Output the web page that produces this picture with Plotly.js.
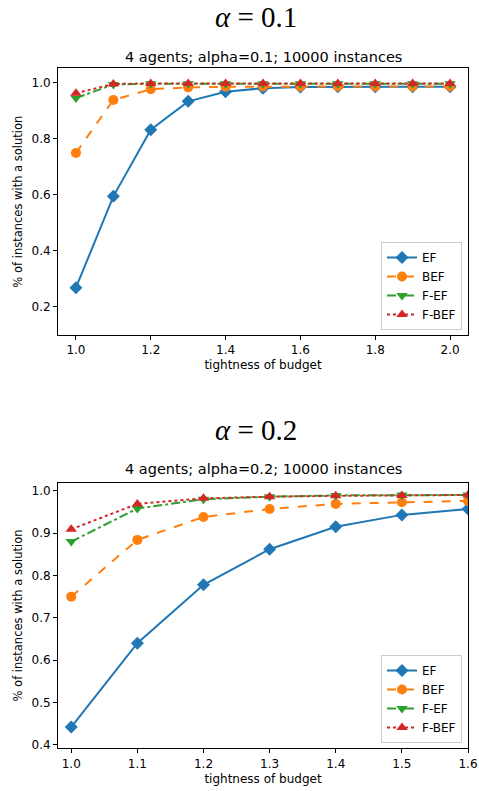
<!DOCTYPE html>
<html>
<head>
<meta charset="utf-8">
<script src="https://cdn.plot.ly/plotly-3.0.1.min.js"></script>
<style>html,body{margin:0;padding:0;background:#fff;}#chart{width:479px;height:791px;}</style>
</head>
<body>
<div id="chart"></div>
<script>
// ---- data: alpha = 0.1 ----
const budgets1 = [1.0, 1.1, 1.2, 1.3, 1.4, 1.5, 1.6, 1.7, 1.8, 1.9, 2.0];
const ef1   = [0.268, 0.594, 0.832, 0.933, 0.967, 0.980, 0.984, 0.985, 0.985, 0.985, 0.985];
const bef1  = [0.749, 0.938, 0.976, 0.983, 0.985, 0.986, 0.986, 0.986, 0.986, 0.986, 0.986];
const fef1  = [0.945, 0.993, 0.996, 0.996, 0.996, 0.996, 0.996, 0.996, 0.996, 0.996, 0.996];
const fbef1 = [0.962, 0.995, 0.997, 0.997, 0.997, 0.997, 0.997, 0.997, 0.997, 0.997, 0.997];

// ---- data: alpha = 0.2 ----
const budgets2 = [1.0, 1.1, 1.2, 1.3, 1.4, 1.5, 1.6];
const ef2   = [0.442, 0.640, 0.778, 0.862, 0.915, 0.943, 0.957];
const bef2  = [0.750, 0.884, 0.938, 0.957, 0.969, 0.973, 0.976];
const fef2  = [0.880, 0.958, 0.980, 0.986, 0.989, 0.990, 0.990];
const fbef2 = [0.909, 0.969, 0.982, 0.986, 0.988, 0.989, 0.990];

const seriesNames = ["EF", "BEF", "F-EF", "F-BEF"];
const colors = ["#1f77b4", "#ff7f0e", "#2ca02c", "#d62728"];
const dashes = ["solid", "dash", "dashdot", "dot"];
const symbols = ["diamond", "circle", "triangle-down", "triangle-up"];
const sizes = [10, 10, 10, 10];

const supTitles = ["<i>α</i> = 0.1", "<i>α</i> = 0.2"];
const subTitles = ["4 agents; alpha=0.1; 10000 instances", "4 agents; alpha=0.2; 10000 instances"];
const xLabel = "tightness of budget";
const yLabel = "% of instances with a solution";

const groups = [
  {x: budgets1, ys: [ef1, bef1, fef1, fbef1], xa: "x", ya: "y", legend: "legend"},
  {x: budgets2, ys: [ef2, bef2, fef2, fbef2], xa: "x2", ya: "y2", legend: "legend2"}
];

const traces = [];
groups.forEach(g => {
  g.ys.forEach((ys, i) => {
    traces.push({
      x: g.x, y: ys, xaxis: g.xa, yaxis: g.ya,
      name: seriesNames[i], legend: g.legend,
      type: "scatter", mode: "lines+markers",
      line: {color: colors[i], width: 2, dash: dashes[i]},
      marker: {color: colors[i], symbol: symbols[i], size: sizes[i]},
      cliponaxis: true
    });
  });
});

const W = 479, H = 791;
const px = v => v / W;
const py = v => 1 - v / H;

const axBase = {
  showgrid: false, zeroline: false, showline: true, mirror: true,
  linecolor: "#000", linewidth: 1, ticks: "outside", ticklen: 4,
  tickcolor: "#000", tickwidth: 1, tickfont: {size: 12, color: "#000"}
};

const layout = {
  width: W, height: H,
  margin: {l: 0, r: 0, t: 0, b: 0},
  paper_bgcolor: "#fff", plot_bgcolor: "#fff",
  font: {family: "DejaVu Sans, sans-serif", size: 12, color: "#000"},
  xaxis: Object.assign({}, axBase, {
    domain: [px(58), px(468)], anchor: "y", range: [0.952, 2.048],
    tickvals: [1.0, 1.2, 1.4, 1.6, 1.8, 2.0], tickformat: ".1f",
    title: {text: xLabel, font: {size: 12}, standoff: 4}
  }),
  yaxis: Object.assign({}, axBase, {
    domain: [py(335), py(68.3)], anchor: "x", range: [0.099, 1.051],
    tickvals: [0.2, 0.4, 0.6, 0.8, 1.0], tickformat: ".1f",
    title: {text: yLabel, font: {size: 11.5}, standoff: 6}
  }),
  xaxis2: Object.assign({}, axBase, {
    domain: [px(58), px(468)], anchor: "y2", range: [0.98, 1.6],
    tickvals: [1.0, 1.1, 1.2, 1.3, 1.4, 1.5, 1.6], tickformat: ".1f",
    title: {text: xLabel, font: {size: 12}, standoff: 4}
  }),
  yaxis2: Object.assign({}, axBase, {
    domain: [py(748.3), py(482.7)], anchor: "x2", range: [0.392, 1.019],
    tickvals: [0.4, 0.5, 0.6, 0.7, 0.8, 0.9, 1.0], tickformat: ".1f",
    title: {text: yLabel, font: {size: 11.5}, standoff: 6}
  }),
  legend: {
    x: px(462), xanchor: "right", y: py(330), yanchor: "bottom",
    bgcolor: "rgba(255,255,255,0.8)", bordercolor: "#ccc", borderwidth: 1,
    font: {size: 12}, itemwidth: 30, tracegroupgap: 0
  },
  legend2: {
    x: px(462), xanchor: "right", y: py(743), yanchor: "bottom",
    bgcolor: "rgba(255,255,255,0.8)", bordercolor: "#ccc", borderwidth: 1,
    font: {size: 12}, itemwidth: 30, tracegroupgap: 0
  },
  annotations: [
    {text: supTitles[0], xref: "paper", yref: "paper", x: px(256), y: py(17),
     xanchor: "center", yanchor: "middle", showarrow: false,
     font: {family: "Liberation Serif, DejaVu Serif, serif", size: 29, color: "#000"}},
    {text: subTitles[0], xref: "paper", yref: "paper", x: px(263), y: py(57),
     xanchor: "center", yanchor: "middle", showarrow: false,
     font: {size: 14.5, color: "#000"}},
    {text: supTitles[1], xref: "paper", yref: "paper", x: px(256), y: py(430),
     xanchor: "center", yanchor: "middle", showarrow: false,
     font: {family: "Liberation Serif, DejaVu Serif, serif", size: 29, color: "#000"}},
    {text: subTitles[1], xref: "paper", yref: "paper", x: px(263), y: py(469),
     xanchor: "center", yanchor: "middle", showarrow: false,
     font: {size: 14.5, color: "#000"}}
  ]
};

Plotly.newPlot("chart", traces, layout, {displayModeBar: false, staticPlot: true});
</script>
</body>
</html>
